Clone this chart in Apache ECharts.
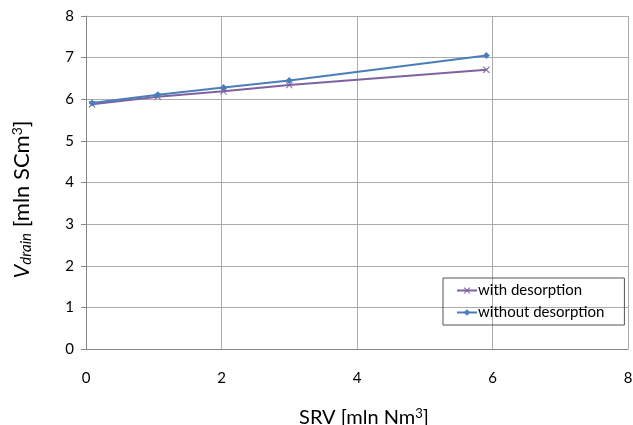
<!DOCTYPE html>
<html>
<head>
<meta charset="utf-8">
<script src="https://cdn.jsdelivr.net/npm/echarts@6/dist/echarts.min.js"></script>
<style>
  html, body { margin: 0; padding: 0; background: #fff; }
  #container { width: 633px; height: 425px; }
</style>
</head>
<body>
<div id="container"></div>
<script>
// data
var srvWith = [0.09, 1.06, 2.03, 3.0, 5.91];
var vWith = [5.88, 6.06, 6.19, 6.34, 6.71];
var srvWithout = [0.09, 1.06, 2.03, 3.0, 5.91];
var vWithout = [5.91, 6.11, 6.28, 6.45, 7.05];
var seriesNames = ['with desorption', 'without desorption'];

var FONT = 'Lato, "Noto Sans", sans-serif';
var xMark = 'path://M0,1L1,0L5,4L9,0L10,1L6,5L10,9L9,10L5,6L1,10L0,9L4,5Z';

function pairs(xs, ys) {
    return xs.map(function (x, i) { return [x, ys[i]]; });
}

var myChart = echarts.init(document.getElementById('container'));

myChart.setOption({
    animation: false,
    textStyle: { fontFamily: FONT },
    grid: { left: 86, right: 5, top: 16, bottom: 76, outerBoundsMode: 'none' },
    legend: {
        orient: 'vertical',
        left: 443,
        top: 278,
        padding: [5, 20, 5, 13],
        itemGap: 7,
        itemWidth: 20,
        itemHeight: 8,
        borderColor: '#555',
        borderWidth: 1,
        textStyle: { fontFamily: FONT, fontSize: 15, color: '#000', padding: [0, 0, 0, -4] },
        data: seriesNames
    },
    xAxis: {
        type: 'value',
        min: 0, max: 8, interval: 2,
        name: 'SRV [mln Nm{sup|3}]',
        nameLocation: 'middle',
        nameGap: 58,
        nameTextStyle: {
            fontFamily: FONT, fontSize: 20, color: '#000',
            padding: [0, 0, 0, 14],
            rich: { sup: { fontSize: 13, verticalAlign: 'top', padding: [0, 0, 8, 0], fontFamily: FONT } }
        },
        axisLine: { lineStyle: { color: '#868686' } },
        axisTick: { show: false },
        axisLabel: { margin: 22, fontSize: 15, color: '#000' },
        splitLine: { lineStyle: { color: '#ABABAB' } }
    },
    yAxis: {
        type: 'value',
        min: 0, max: 8, interval: 1,
        name: '{v|V}{sub|drain} [mln SCm{sup|3}]',
        nameLocation: 'middle',
        nameGap: 52,
        nameRotate: 90,
        nameTextStyle: {
            fontFamily: FONT, fontSize: 22, color: '#000',
            padding: [0, 34, 0, 0],
            rich: {
                v: { fontSize: 22, fontStyle: 'italic', fontFamily: FONT },
                sub: { fontSize: 15, fontStyle: 'italic', verticalAlign: 'bottom', padding: [9, 0, 0, 0], fontFamily: FONT },
                sup: { fontSize: 14, verticalAlign: 'top', padding: [0, 0, 9, 0], fontFamily: FONT }
            }
        },
        axisLine: { show: true, lineStyle: { color: '#868686' } },
        axisTick: { show: true, length: 5, lineStyle: { color: '#868686' } },
        axisLabel: { margin: 12, fontSize: 15, color: '#000' },
        splitLine: { lineStyle: { color: '#ABABAB' } }
    },
    series: [{
        name: seriesNames[0],
        type: 'line',
        data: pairs(srvWith, vWith),
        symbol: xMark,
        symbolSize: 7,
        lineStyle: { color: '#7E62A1', width: 2 },
        itemStyle: { color: '#7E62A1' },
        z: 2
    }, {
        name: seriesNames[1],
        type: 'line',
        data: pairs(srvWithout, vWithout),
        symbol: 'diamond',
        symbolSize: 7,
        lineStyle: { color: '#4A7EBB', width: 2 },
        itemStyle: { color: '#4A7EBB' },
        z: 3
    }]
});
</script>
</body>
</html>
